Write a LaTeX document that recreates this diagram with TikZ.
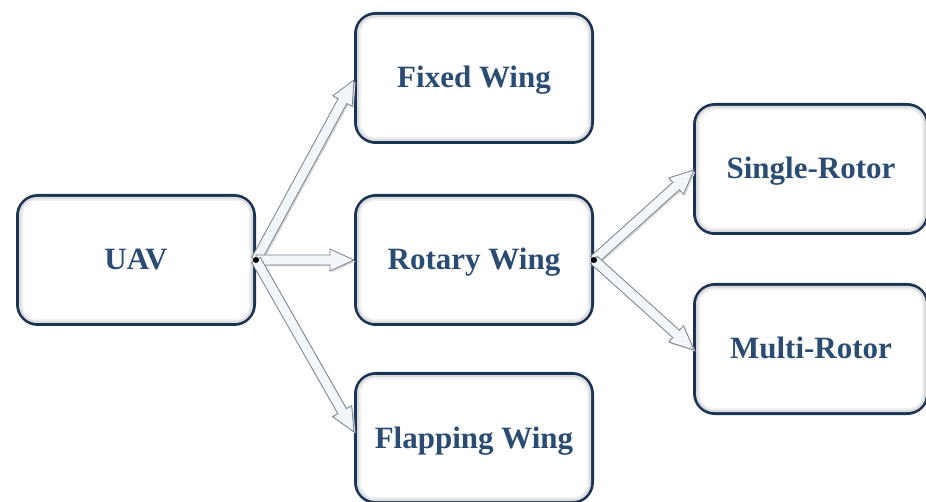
\documentclass[tikz,border=0pt]{standalone}
\usepackage{fontspec}
\setmainfont{Liberation Serif}
\usetikzlibrary{calc}
\definecolor{boxline}{RGB}{28,52,84}
\definecolor{txt}{RGB}{42,76,114}
\definecolor{arrfill}{RGB}{242,245,249}
\definecolor{arrline}{RGB}{120,128,140}
\tikzset{
  box/.style={draw=boxline, line width=4pt, fill=white, rounded corners=20pt,
    minimum width=236pt, minimum height=128pt, font=\fontsize{31}{33}\selectfont\bfseries,
    text=txt, inner sep=0pt, text height=20pt, text depth=0pt},
  glowa/.style={draw=gray!28, line width=2pt, rounded corners=17pt},
  glowb/.style={draw=gray!12, line width=2pt, rounded corners=15pt},
  blockarrow/.style={draw=arrline, fill=arrfill, line width=0.8pt, line join=miter},
  arrshadow/.style={fill=gray!30},
}
\newcommand{\boxglow}[1]{%
  \draw[glowb] ($(#1.south west)+(6,-6)$) rectangle ($(#1.north east)+(-6,6)$);
  \draw[glowa] ($(#1.south west)+(4,-4)$) rectangle ($(#1.north east)+(-4,4)$);}
\newcommand{\blockarr}[2]{%
  \path let \p1=(#1), \p2=(#2), \n1={atan2(\y2-\y1,\x2-\x1)}, \n2={veclen(\x2-\x1,\y2-\y1)}, \n3={\n2-24} in
    [shift={($(\p1)+(1.5pt,-1.5pt)$)}, rotate=\n1]
    [arrshadow] (0pt,-5pt) -- ({\n3*1pt},-5pt) -- ({\n3*1pt},-11pt) -- ({\n2*1pt},0pt)
      -- ({\n3*1pt},11pt) -- ({\n3*1pt},5pt) -- (0pt,5pt) -- cycle;
  \path let \p1=(#1), \p2=(#2), \n1={atan2(\y2-\y1,\x2-\x1)}, \n2={veclen(\x2-\x1,\y2-\y1)}, \n3={\n2-24} in
    [shift={(\p1)}, rotate=\n1]
    [blockarrow] (0pt,-5pt) -- ({\n3*1pt},-5pt) -- ({\n3*1pt},-11pt) -- ({\n2*1pt},0pt)
      -- ({\n3*1pt},11pt) -- ({\n3*1pt},5pt) -- (0pt,5pt) -- cycle;}
\begin{document}
\begin{tikzpicture}[x=1pt,y=-1pt]
\useasboundingbox (0,0) rectangle (926,502);
\node[box] (uav) at (136,260) {UAV};
\node[box] (fw) at (474,78) {Fixed Wing};
\node[box] (rw) at (474,260) {Rotary Wing};
\node[box] (flw) at (474,438) {Flapping Wing};
\node[box, minimum width=232pt] (sr) at (811,169) {Single-Rotor};
\node[box, minimum width=232pt] (mr) at (811,349) {Multi-Rotor};
\boxglow{uav}\boxglow{fw}\boxglow{rw}\boxglow{flw}\boxglow{sr}\boxglow{mr}
\coordinate (s1) at (uav.east);
\coordinate (s2) at (rw.east);
\coordinate (t1) at ($(fw.west)+(0,2)$);
\coordinate (t2) at (rw.west);
\coordinate (t3) at ($(flw.west)+(0,-6)$);
\coordinate (t4) at ($(sr.west)+(1,1)$);
\coordinate (t5) at ($(mr.west)+(1,1)$);
\blockarr{s1}{t1}
\blockarr{s1}{t2}
\blockarr{s1}{t3}
\blockarr{s2}{t4}
\blockarr{s2}{t5}
\fill[black] (s1) circle (3pt);
\fill[black] (s2) circle (3pt);
\end{tikzpicture}
\end{document}
